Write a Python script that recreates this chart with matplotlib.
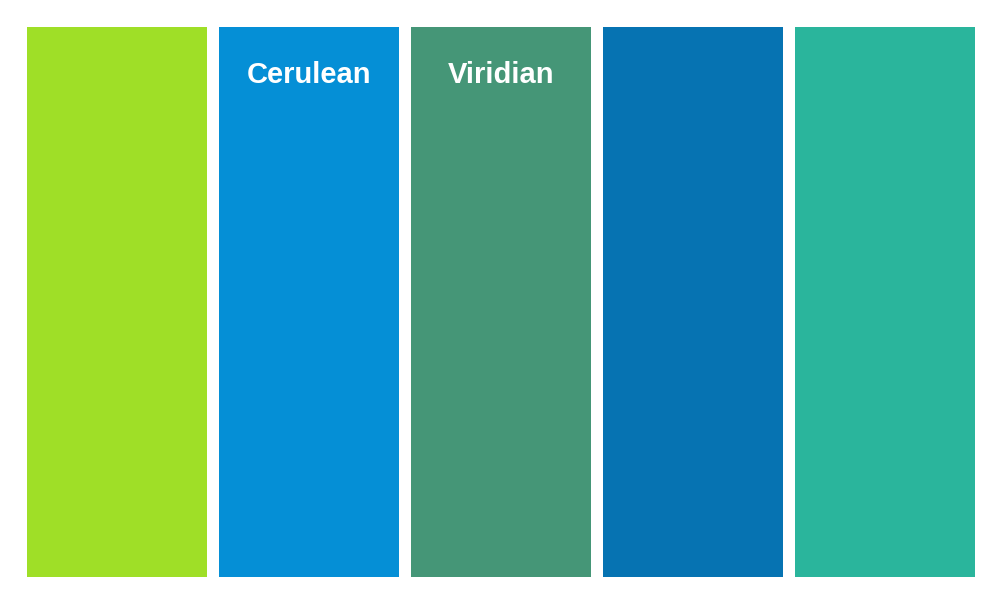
import matplotlib
matplotlib.use("Agg")
import matplotlib.pyplot as plt

categories = ["Lime", "Cerulean", "Viridian", "Blue", "Teal"]
labels = ["", "Cerulean", "Viridian", "", ""]
values = [1, 1, 1, 1, 1]
colors = ["#9FDF27", "#058FD6", "#459677", "#0673B2", "#2AB59C"]

W, H = 1005, 595
fig = plt.figure(figsize=(W / 100, H / 100), dpi=100)
ax = fig.add_axes([0, 0, 1, 1])
step = 192.0
x = list(range(len(categories)))
ax.bar(x, values, width=180 / step, color=colors, linewidth=0)
ax.set_xlim(-117 / step, (W - 117) / step)
ax.set_ylim(-18 / 550, (H - 18) / 550)
for xi, lab in zip(x, labels):
    if lab:
        ax.text(xi, (520 - 18) / 550, lab, ha="center", va="center",
                color="white", fontsize=21, fontweight="bold",
                family=["Liberation Sans", "DejaVu Sans"])
ax.axis("off")
fig.savefig("out.png", dpi=100)
